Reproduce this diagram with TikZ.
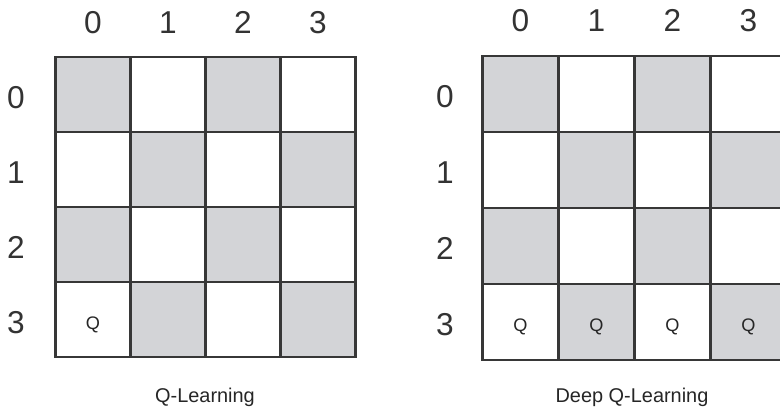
\documentclass[tikz,border=0pt]{standalone}
\usepackage{fontspec}
\setmainfont{Liberation Sans}
\usetikzlibrary{positioning}
\definecolor{cellgray}{RGB}{211,212,215}
\definecolor{gridline}{RGB}{55,55,55}

\begin{document}
\begin{tikzpicture}[x=0.03cm, y=0.03cm,
    cell/.style={draw=gridline, line width=1.8pt, fill=white, inner sep=0pt},
    shaded/.style={fill=cellgray},
    idx/.style={font=\fontsize{27}{30}\selectfont, text=black!80, text height=19.5pt, text depth=0pt},
    qmark/.style={font=\fontsize{15.5}{18}\selectfont, text=black!85},
    caption/.style={font=\fontsize{17}{20}\selectfont, text=black!85}]

    \clip (0,0) rectangle (780,412);
    \fill[white] (0,0) rectangle (780,412);

    % Left grid (Q-Learning)
    \foreach \r in {0,...,3} {
        \foreach \c in {0,...,3} {
            \pgfmathtruncatemacro{\parity}{mod(\r+\c,2)}
            \ifnum\parity=0
                \node[cell, shaded, minimum size=2.25cm] (L-\r-\c) at (93+75*\c, 317.5-75*\r) {};
            \else
                \node[cell, minimum size=2.25cm] (L-\r-\c) at (93+75*\c, 317.5-75*\r) {};
            \fi
        }
    }
    \node[qmark] (LQ) at ([yshift=-0.15cm]L-3-0.center) {Q};

    % Left grid labels
    \foreach \i in {0,...,3} {
        \node[idx] (LC-\i) at (93+75*\i, 390) {\i};
        \node[idx] (LR-\i) at (16, 315-75*\i) {\i};
    }
    \node[caption] (LT) at (205, 15) {Q-Learning};

    % Right grid (Deep Q-Learning), last column runs off the edge
    \foreach \r in {0,...,3} {
        \foreach \c in {0,...,3} {
            \pgfmathtruncatemacro{\parity}{mod(\r+\c,2)}
            \ifnum\parity=0
                \node[cell, shaded, minimum size=2.28cm] (R-\r-\c) at (520.5+76*\c, 318.3-76*\r) {};
            \else
                \node[cell, minimum size=2.28cm] (R-\r-\c) at (520.5+76*\c, 318.3-76*\r) {};
            \fi
        }
    }
    \foreach \c in {0,...,3} {
        \node[qmark] (RQ-\c) at ([yshift=-0.15cm]R-3-\c.center) {Q};
    }

    % Right grid labels
    \foreach \i in {0,...,3} {
        \node[idx] (RC-\i) at (520.5+76*\i, 392) {\i};
        \node[idx] (RR-\i) at (445, 316-76*\i) {\i};
    }
    \node[caption] (RT) at (632, 15) {Deep Q-Learning};

\end{tikzpicture}
\end{document}
